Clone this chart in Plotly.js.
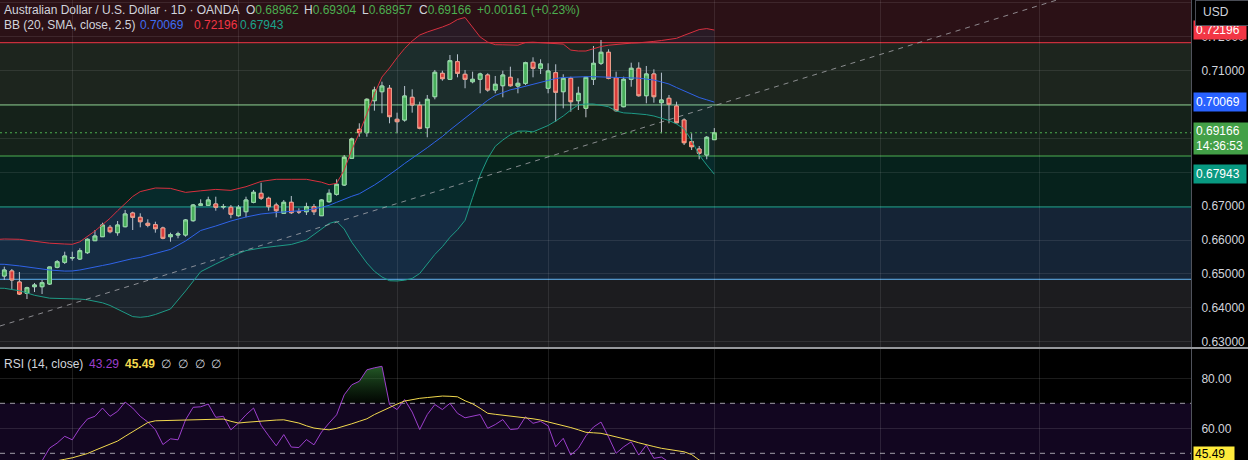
<!DOCTYPE html>
<html><head><meta charset="utf-8">
<script src="https://cdn.plot.ly/plotly-3.0.1.min.js"></script>
<style>html,body{margin:0;padding:0;background:#000;overflow:hidden}#chart{width:1248px;height:460px}</style>
</head><body><div id="chart"></div>
<script>
// ---------- Daily candles (AUD/USD, OANDA) ----------
const opens = [0.64939,0.65087,0.64762,0.64429,0.64623,0.64623,0.64703,0.65196,0.65343,0.65470,
0.65441,0.65627,0.65981,0.66099,0.66376,0.66217,0.66394,0.66798,0.66671,0.66494,
0.66453,0.66355,0.66099,0.66149,0.66149,0.66571,0.67025,0.67025,0.67064,0.66975,
0.66966,0.66718,0.66836,0.67114,0.67379,0.67232,0.67034,0.66789,0.67114,0.66842,
0.66836,0.66984,0.66718,0.67131,0.67350,0.67624,0.68412,0.69268,0.69167,0.70112,
0.70377,0.70478,0.69563,0.69542,0.70212,0.69976,0.69315,0.70230,0.70920,0.70743,
0.71262,0.70891,0.70672,0.70743,0.70870,0.70427,0.70554,0.70802,0.70545,0.70625,
0.71245,0.71068,0.70478,0.70938,0.70377,0.70773,0.70112,0.69887,0.70743,0.71215,
0.71540,0.70790,0.69935,0.70743,0.71068,0.70259,0.70900,0.70053,0.70182,0.69955,
0.69542,0.68902,0.68686,0.68509,0.68962];
const highs = [0.65213,0.65146,0.65057,0.64623,0.64733,0.64821,0.65213,0.65411,0.65656,0.65656,
0.65756,0.66052,0.66296,0.66512,0.66444,0.66562,0.66887,0.66836,0.66789,0.66612,
0.66541,0.66394,0.66217,0.66246,0.66621,0.67064,0.67202,0.67279,0.67279,0.67064,
0.67034,0.67034,0.67279,0.67477,0.67692,0.67279,0.67102,0.67182,0.67300,0.66937,
0.67102,0.67064,0.67202,0.67497,0.67792,0.68509,0.69020,0.69445,0.70182,0.70525,
0.70672,0.70575,0.69758,0.70545,0.70448,0.70082,0.70280,0.71018,0.70997,0.71460,
0.71481,0.71018,0.70967,0.70938,0.70920,0.70841,0.70997,0.71115,0.70773,0.71262,
0.71392,0.71333,0.71215,0.71186,0.70891,0.70820,0.70525,0.70820,0.71726,0.71903,
0.71628,0.70967,0.70820,0.71233,0.71245,0.71136,0.71038,0.70938,0.70280,0.70082,
0.69592,0.69150,0.68775,0.69070,0.69304];
const lows = [0.64821,0.64556,0.64378,0.64260,0.64467,0.64408,0.64674,0.65166,0.65293,0.65391,
0.65411,0.65588,0.65981,0.66099,0.66199,0.66128,0.66376,0.66296,0.66376,0.66376,
0.66217,0.66022,0.65951,0.66052,0.66099,0.66541,0.67005,0.67005,0.66866,0.66907,
0.66642,0.66689,0.66671,0.67084,0.67182,0.66866,0.66671,0.66769,0.66769,0.66769,
0.66739,0.66739,0.66710,0.67102,0.67309,0.67595,0.68391,0.69049,0.69049,0.69817,
0.69740,0.69445,0.69150,0.69492,0.69758,0.69268,0.69032,0.70153,0.70702,0.70722,
0.70802,0.70478,0.70625,0.70330,0.70377,0.70330,0.70212,0.70525,0.70330,0.70575,
0.70802,0.70900,0.70330,0.69492,0.69887,0.69787,0.69837,0.69622,0.70575,0.71165,
0.70743,0.69787,0.69917,0.70525,0.70230,0.70035,0.70053,0.69150,0.69445,0.69445,
0.68804,0.68657,0.68383,0.68383,0.68957];
const closes = [0.65116,0.64821,0.64408,0.64594,0.64674,0.64741,0.65205,0.65361,0.65529,0.65485,
0.65686,0.66022,0.66119,0.66444,0.66246,0.66444,0.66769,0.66671,0.66541,0.66435,
0.66335,0.66052,0.66158,0.66178,0.66592,0.67034,0.67064,0.67182,0.66966,0.66990,
0.66760,0.66966,0.67182,0.67409,0.67232,0.66984,0.66866,0.67114,0.66807,0.66830,
0.66984,0.66836,0.67182,0.67379,0.67645,0.68442,0.68982,0.69167,0.70153,0.70427,
0.70545,0.69640,0.69492,0.70250,0.69985,0.69297,0.70153,0.70950,0.70761,0.71292,
0.70920,0.70743,0.70743,0.70900,0.70427,0.70596,0.70870,0.70554,0.70625,0.71233,
0.71068,0.71195,0.70988,0.70360,0.70773,0.70082,0.70330,0.70802,0.71215,0.71540,
0.70773,0.69817,0.70743,0.71068,0.70259,0.70900,0.70230,0.70132,0.70005,0.69462,
0.68872,0.68754,0.68560,0.69032,0.69166];

// ---------- Bollinger Bands (20, SMA, close, 2.5) ----------
const bbIdx = [-1,0,2,4,6,8,9,10,11,12,13,14,15,16,17,18,19,20,22,24,26,28,30,32,34,36,38,40,42,
43,44,45,46,47,48,49,50,51,52,53,54,55,56,57,58,59,60,61,62,63,64,65,66,67,68,69,70,71,72,73,74,
75,76,77,78,79,80,81,82,83,84,85,86,87,88,89,90,91,92,93,94];
const bbUpper = [0.66016,0.66031,0.66022,0.65972,0.65907,0.65883,0.65874,0.65948,0.66099,0.66267,
0.66456,0.66642,0.66866,0.67087,0.67285,0.67430,0.67483,0.67536,0.67524,0.67406,0.67453,0.67494,
0.67465,0.67574,0.67730,0.67792,0.67792,0.67792,0.67707,
0.67633,0.67674,0.68067,0.68657,0.69159,0.69719,0.70309,0.70811,0.71077,0.71380,0.71652,0.71873,
0.72050,0.72139,0.72207,0.72286,0.72375,0.72508,0.72567,0.72289,0.71991,0.71841,0.71764,0.71761,
0.71755,0.71749,0.71829,0.71838,0.71823,0.71811,0.71797,0.71782,0.71605,0.71578,0.71578,0.71655,
0.71711,0.71749,0.71776,0.71797,0.71811,0.71820,0.71835,0.71861,0.71888,0.71918,0.71953,0.72041,
0.72133,0.72210,0.72239,0.72196];
const bbMiddle = [0.65287,0.65284,0.65237,0.65181,0.65116,0.65084,0.65087,0.65116,0.65157,0.65187,
0.65249,0.65293,0.65352,0.65396,0.65453,0.65485,0.65547,0.65588,0.65724,0.65972,0.66282,0.66414,
0.66562,0.66680,0.66769,0.66813,0.66842,0.66878,0.66966,
0.67025,0.67114,0.67211,0.67291,0.67365,0.67491,0.67624,0.67772,0.67919,0.68090,0.68259,0.68406,
0.68563,0.68725,0.68893,0.69055,0.69247,0.69424,0.69583,0.69772,0.69955,0.70123,0.70265,0.70357,
0.70433,0.70481,0.70540,0.70584,0.70646,0.70705,0.70767,0.70796,0.70811,0.70820,0.70820,0.70820,
0.70817,0.70814,0.70803,0.70793,0.70785,0.70776,0.70750,0.70722,0.70665,0.70604,0.70500,0.70398,
0.70295,0.70206,0.70138,0.70069];
const bbLower = [0.64579,0.64576,0.64505,0.64370,0.64284,0.64281,0.64278,0.64258,0.64237,0.64187,
0.64148,0.64069,0.63957,0.63847,0.63741,0.63720,0.63744,0.63803,0.63965,0.64497,0.65066,0.65293,
0.65512,0.65689,0.65765,0.65818,0.65869,0.66001,0.66341,
0.66488,0.66553,0.66326,0.65934,0.65633,0.65323,0.65078,0.64910,0.64800,0.64792,0.64815,0.64868,
0.65013,0.65278,0.65574,0.65804,0.66081,0.66305,0.66583,0.67255,0.67919,0.68406,0.68766,0.68952,
0.69106,0.69212,0.69215,0.69191,0.69291,0.69380,0.69513,0.69660,0.69837,0.69991,0.70014,0.70014,
0.69975,0.69932,0.69808,0.69752,0.69740,0.69728,0.69700,0.69660,0.69600,0.69527,0.69424,0.69277,
0.68937,0.68509,0.68214,0.67943];

// ---------- RSI (14, close) and its MA ----------
const rsiVals = [44,41,36,39,41,47,52.1,54.1,56.8,55.4,
60.1,63.7,64.8,68.1,64.8,66.8,70.5,68.1,64.8,62.5,
59.5,53.5,55.8,55.4,63.4,68.4,68.6,69.7,64.4,64.8,
59.4,62.1,65.4,68.1,61.2,57.0,53.0,57.5,52.5,52.3,
55.5,53.4,58.5,62.1,65.4,73.4,77.4,78.8,83.4,84.2,
84.8,69.5,67.5,71.5,66.5,59.5,65.5,69.5,67.5,70.0,
66.0,64.2,64.8,65.5,60.0,61.5,63.5,59.5,59.8,64.6,
62.0,62.8,61.0,52.6,56.0,49.3,52.0,57.0,60.5,62.5,
56.5,50.0,52.6,54.6,49.3,53.3,48.0,48.5,46.5,43.0,
37.5,36.5,34.5,41.5,43.29];
const rsiMA = [46.0,45.6,45.2,45.0,45.3,45.8,46.3,46.9,47.6,48.2,
48.9,49.9,51.2,52.5,53.7,54.9,56.8,58.7,60.5,62.3,
63.0,63.1,63.0,63.1,63.2,63.3,63.4,63.5,63.6,63.7,
62.8,62.1,62.4,62.7,63.0,63.2,63.3,63.4,62.8,62.1,
61.0,60.1,59.7,59.4,60.0,60.8,61.8,62.8,63.8,65.5,
67.0,68.4,69.7,70.9,71.5,72.0,72.3,72.6,72.9,72.8,
72.6,71.0,69.8,68.0,66.0,65.6,65.3,64.9,64.5,64.2,
63.8,63.3,62.6,62.0,61.3,60.3,59.4,58.4,58.2,58.0,
57.3,56.6,56.0,55.1,54.2,53.3,52.7,52.0,51.5,51.0,
50.6,49.5,47.3,46.4,45.49];

// ---------- drawings / levels ----------
const fibLevels = [0.71823,0.69985,0.68480,0.66975,0.64842];
const fibColors = ['#f23645','#81c784','#4caf50','#089981','#64b5f6'];
const bandColors = ['#2b1116','#1d251e','#15221a','#06221c','#152436','#1c1c1f'];
const trendIdx = [-0.57,139.8];
const trendPrice = [0.63464,0.73113];
const monthIdx = [9,31,52,72,94,116,137];
const priceTicks = [0.63,0.64,0.65,0.66,0.67,0.68,0.69,0.70,0.71,0.72,0.73];
const priceTickText = ['0.63000','0.64000','0.65000','0.66000','0.67000','','','','0.71000','0.72000',''];
const rsiTicks = [60,80];
const lastPrice = 0.69166;

const idx = opens.map((_,i)=>i);
const bodyHi = opens.map((o,i)=>Math.max(o,closes[i]));
const bodyLo = opens.map((o,i)=>Math.min(o,closes[i]));

// RSI overbought fill (>70)
const fx=[], fy=[];
for (let i=0;i<rsiVals.length;i++){
  if (i>0){ const a=rsiVals[i-1], b=rsiVals[i];
    if ((a-70)*(b-70)<0){ const t=(70-a)/(b-a); fx.push(i-1+t); fy.push(70); } }
  fx.push(i); fy.push(Math.max(rsiVals[i],70));
}

const W=1191, H=460;
const px = x => x/W, py = y => 1 - y/H;
const FONT = 'Liberation Sans, Arial, sans-serif';
const TXT = '#d1d4dc';

const traces = [
  {type:'scatter', x:bbIdx, y:bbLower, mode:'lines', line:{color:'#1e9b86', width:1}, hoverinfo:'skip'},
  {type:'scatter', x:bbIdx, y:bbUpper, mode:'lines', line:{color:'#d8303f', width:1}, fill:'tonexty', fillcolor:'rgba(33,150,243,0.07)', hoverinfo:'skip'},
  {type:'scatter', x:bbIdx, y:bbMiddle, mode:'lines', line:{color:'#2f63e8', width:1}, hoverinfo:'skip'},
  {type:'candlestick', x:idx, open:opens, high:highs, low:lows, close:closes,
    increasing:{line:{color:'#c3c6cc', width:1}, fillcolor:'#4caf50'},
    decreasing:{line:{color:'#c3c6cc', width:1}, fillcolor:'#e8352e'}, hoverinfo:'skip'},
  {type:'candlestick', x:idx, open:opens, high:bodyHi, low:bodyLo, close:closes,
    increasing:{line:{color:'#9ee0a0', width:1}, fillcolor:'#4caf50'},
    decreasing:{line:{color:'#ff9e80', width:1}, fillcolor:'#e8352e'}, hoverinfo:'skip'},
  {type:'scatter', x:trendIdx, y:trendPrice, mode:'lines', line:{color:'rgba(175,175,180,0.75)', width:1, dash:'5px,5px'}, hoverinfo:'skip'},
  // RSI pane
  {type:'scatter', x:fx, y:fx.map(()=>70), xaxis:'x2', yaxis:'y2', mode:'lines', line:{width:0}, hoverinfo:'skip'},
  {type:'scatter', x:fx, y:fy, xaxis:'x2', yaxis:'y2', mode:'lines', line:{width:0}, fill:'tonexty',
    fillcolor:'rgba(60,140,60,0.35)',
    fillgradient:{type:'vertical', colorscale:[[0,'rgba(40,110,45,0.05)'],[1,'rgba(60,150,65,0.6)']]}, hoverinfo:'skip'},
  {type:'scatter', x:idx, y:rsiVals, xaxis:'x2', yaxis:'y2', mode:'lines', line:{color:'#9c3fcc', width:1}, hoverinfo:'skip'},
  {type:'scatter', x:idx, y:rsiMA, xaxis:'x2', yaxis:'y2', mode:'lines', line:{color:'#f2d94e', width:1}, hoverinfo:'skip'}
];

const shapes = [];
const bandEdges = [0.80].concat(fibLevels).concat([0.50]);
for (let b=0;b<bandColors.length;b++){
  shapes.push({type:'rect', xref:'x domain', x0:0, x1:1, yref:'y', y0:bandEdges[b+1], y1:bandEdges[b],
    fillcolor:bandColors[b], line:{width:0}, layer:'below'});
}
fibLevels.forEach((v,i)=>shapes.push({type:'line', xref:'x domain', x0:0, x1:1, yref:'y', y0:v, y1:v,
  line:{color:fibColors[i], width:1}, layer:'below'}));
shapes.push({type:'line', xref:'x domain', x0:0, x1:1, yref:'y', y0:lastPrice, y1:lastPrice,
  line:{color:'#4caf50', width:1, dash:'2px,3px'}, layer:'above'});
shapes.push({type:'rect', xref:'x2 domain', x0:0, x1:1, yref:'y2', y0:30, y1:70, fillcolor:'#120620', line:{width:0}, layer:'below'});
[70,50].forEach(v=>shapes.push({type:'line', xref:'x2 domain', x0:0, x1:1, yref:'y2', y0:v, y1:v,
  line:{color:'rgba(210,210,215,0.75)', width:1, dash:'5px,5px'}, layer:'below'}));
shapes.push({type:'line', xref:'paper', x0:0, x1:1248/W, yref:'paper', y0:py(348), y1:py(348),
  line:{color:'#c9cbd1', width:1.5}, layer:'above'});

function ann(text, x, y, color, size, extra){
  return Object.assign({text:text, xref:'paper', yref:'paper', x:px(x), y:py(y), xanchor:'left', yanchor:'middle',
    showarrow:false, font:{family:FONT, size:size||12, color:color||TXT}, borderpad:0}, extra||{});
}
const G = '#4caf50';
const sp = (c,t)=>'<span style="color:'+c+'">'+t+'</span>';
const annotations = [
  ann('Australian Dollar / U.S. Dollar · 1D · OANDA', 3, 10),
  ann('O'+sp(G,'0.68962'), 245, 10),
  ann('H'+sp(G,'0.69304'), 303, 10),
  ann('L'+sp(G,'0.68957'), 360.5, 10),
  ann('C'+sp(G,'0.69166'), 418, 10),
  ann(sp(G,'+0.00161 (+0.23%)'), 476, 10),
  ann('BB (20, SMA, close, 2.5)', 3, 25),
  ann('0.70069', 138.5, 25, '#3d6df2'),
  ann('0.72196', 192.5, 25, '#f23645'),
  ann('0.67943', 238.5, 25, '#1aa38c'),
  ann('RSI (14, close)', 3, 364),
  ann('43.29', 87.5, 364, '#9c3fcc'),
  ann('<b>45.49</b>', 124, 364, '#f2d94e'),
  ann('∅', 160, 364), ann('∅', 177, 364), ann('∅', 194, 364), ann('∅', 210, 364),
  // price scale labels
  ann('0.72196', 1193, 30.1, '#ffffff', 12, {bgcolor:'#f23645', width:48, height:14, align:'left', borderpad:2}),
  ann('0.70069', 1193, 102.1, '#ffffff', 12, {bgcolor:'#2962ff', width:48, height:14, align:'left', borderpad:2}),
  ann('0.69166<br>14:36:53', 1193, 138.3, '#ffffff', 12, {bgcolor:'#43a047', width:50, height:27, align:'left', borderpad:2}),
  ann('0.67943', 1193, 174.2, '#ffffff', 12, {bgcolor:'#089981', width:48, height:14, align:'left', borderpad:2}),
  ann('45.49', 1193, 453.5, '#000000', 12, {bgcolor:'#ffeb3b', width:38, height:12, align:'left', borderpad:1}),
  ann(' ', 1195, 12.5, TXT, 12, {bgcolor:'#000000', bordercolor:'#4a4d56', borderwidth:1, width:56, height:22, borderpad:1}),
  ann('USD', 1202, 12, TXT, 12)
];

const layout = {
  width:1248, height:460, margin:{l:0, r:57, t:0, b:0},
  paper_bgcolor:'#000000', plot_bgcolor:'rgba(0,0,0,0)', showlegend:false,
  font:{family:FONT, size:12, color:TXT}, boxgap:0.3, boxmode:'overlay',
  xaxis:{domain:[0,1], range:[-0.569,157.11], tickvals:monthIdx, showticklabels:false, ticks:'',
    showgrid:true, gridcolor:'rgba(255,255,255,0.09)', gridwidth:1, zeroline:false, showline:false,
    rangeslider:{visible:false}, anchor:'y', fixedrange:true},
  yaxis:{domain:[1-347/460,1], range:[0.62844,0.73083], side:'right', anchor:'x', tickvals:priceTicks,
    ticktext:priceTickText, ticks:'', ticklabelstandoff:7, showgrid:true, gridcolor:'rgba(255,255,255,0.09)',
    zeroline:false, showline:true, linecolor:'#50535c', linewidth:1, tickfont:{family:FONT, size:12, color:TXT}},
  xaxis2:{domain:[0,1], matches:'x', anchor:'y2', tickvals:monthIdx, showticklabels:false, ticks:'',
    showgrid:true, gridcolor:'rgba(255,255,255,0.11)', zeroline:false, showline:false, rangeslider:{visible:false}},
  yaxis2:{domain:[0,1-349/460], range:[47.32,91.72], side:'right', anchor:'x2', tickvals:rsiTicks,
    tickformat:'.2f', ticks:'', ticklabelstandoff:7, showgrid:true, gridcolor:'rgba(255,255,255,0.11)',
    zeroline:false, showline:true, linecolor:'#50535c', linewidth:1, tickfont:{family:FONT, size:12, color:TXT}},
  shapes:shapes, annotations:annotations
};

Plotly.newPlot('chart', traces, layout, {staticPlot:true, displayModeBar:false});
</script>
</body></html>
